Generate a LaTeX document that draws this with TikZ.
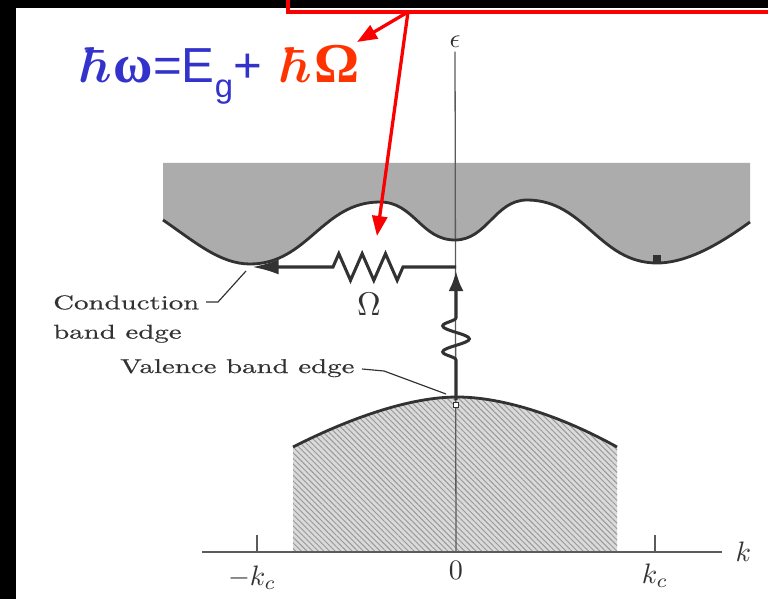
\documentclass[tikz,border=0pt]{standalone}
\usepackage{bm}
\usepackage{fontspec}
\newfontfamily\scanfont{lmroman10-regular.otf}[FakeStretch=1.45,FakeBold=0.5]
\newfontfamily\eqsans{Liberation Sans}
\newfontfamily\eqserif{Liberation Serif}
\usetikzlibrary{arrows.meta,positioning,decorations.pathmorphing,patterns.meta}
\definecolor{eqblue}{RGB}{51,51,204}
\definecolor{eqred}{RGB}{255,51,0}
\definecolor{boxred}{RGB}{250,0,0}
\definecolor{scanink}{RGB}{50,50,50}
\definecolor{bandgray}{RGB}{172,172,172}
\definecolor{hatchgray}{RGB}{218,218,218}
\newcommand\condedge{(163,220) .. controls (195,242) and (220,264) .. (250,264)
  .. controls (308,264) and (322,202) .. (380,202)
  .. controls (414,202) and (421,240) .. (455,240)
  .. controls (487,240) and (495,200) .. (527,200)
  .. controls (585,200) and (599,263) .. (657,263)
  .. controls (690,263) and (725,240) .. (750,222)}
\newcommand\valedge{(293,447) .. controls (350,418) and (410,397) .. (457,397)
  .. controls (505,397) and (565,418) .. (617,447)}
\newcommand\bigmath[2]{\scalebox{#1}{\normalsize$#2$}}

\begin{document}
\begin{tikzpicture}[
    x=0.03cm,y=-0.03cm,
    edge/.style={line width=2.4pt,draw=scanink},
    leader/.style={line width=1pt,draw=scanink},
    axis/.style={line width=1.1pt,draw=scanink!80},
    hint/.style={-{Triangle[length=0.6cm,width=0.45cm]},line width=2.8pt,draw=boxred},
    lbl/.style={font=\scanfont\fontsize{17}{25}\selectfont,text=scanink,inner sep=0pt},
    mlbl/.style={text=scanink,inner sep=0pt}
  ]
  \useasboundingbox (0,0) rectangle (768,599);
  \fill[black] (0,0) rectangle (768,599);
  \fill[white] (16,8) rectangle (768,599);

  % bands
  \fill[bandgray] \condedge -- (750,163) -- (163,163) -- cycle;
  \path[preaction={fill=hatchgray},pattern={Lines[angle=-45,distance=3.4pt,line width=0.8pt]},pattern color=scanink!50]
    \valedge -- (617,552) -- (293,552) -- cycle;

  % axes
  \coordinate (origin) at (456,552);
  \coordinate (kleft) at (202,552);
  \coordinate (kright) at (722,552);
  \node[mlbl,inner sep=3pt] (epslbl) at (455,42) {\bigmath{2.3}{\epsilon}};
  \node[mlbl,right=0.4cm of kright] (klbl) {\bigmath{2.4}{k}};
  \draw[axis] (origin) -- (epslbl);
  \draw[axis] (kleft) -- (kright);
  \foreach \x in {257,655} \draw[axis] (\x,535) -- (\x,552);
  \node[mlbl] (kcneg) at (252,578) {\bigmath{2.4}{-k_c}};
  \node[mlbl] (kzero) at (456,570) {\bigmath{2.4}{0}};
  \node[mlbl] (kcpos) at (655,576) {\bigmath{2.4}{k_c}};

  % band edges
  \draw[edge] \condedge;
  \draw[edge] \valedge;

  % transitions
  \coordinate (vbmax) at (456,400);
  \coordinate (corner) at (456,267);
  \coordinate (cbmin) at (252,267);
  \draw[edge,line width=2.6pt,-{Latex[length=0.6cm,width=0.45cm]},shorten >=3.5pt,decorate,
    decoration={snake,segment length=0.78cm,amplitude=0.4cm,pre length=1.2cm,post length=1.2cm}]
    (vbmax) -- (corner);
  \draw[edge,line width=2.6pt,-{Latex[length=0.8cm,width=0.45cm]},decorate,
    decoration={zigzag,segment length=0.7cm,amplitude=0.4cm,pre length=1.59cm,post length=2.4cm}]
    (corner) -- (cbmin);
  \node[mlbl] (omlbl) at (369,304) {\bigmath{2.8}{\Omega}};
  \node[fill=scanink,inner sep=0pt,minimum size=0.22cm] (cbmark) at (657,259) {};
  \node[draw=scanink,fill=white,line width=0.6pt,inner sep=0pt,minimum size=0.15cm] (vbmark) at (456,405) {};

  % labels
  \node[lbl,align=left,anchor=north west] (condlbl) at (53,295) {Conduction\\band edge};
  \node[lbl,anchor=base west] (vallbl) at (120,373) {Valence band edge};
  \coordinate (condfoot) at (206,302);
  \coordinate (condtip) at (246,271);
  \coordinate (valfoot) at (362,369);
  \coordinate (valtip) at (446,394);
  \draw[leader] (condfoot) -- ++(12,0) -- (condtip);
  \draw[leader] (valfoot) -- ++(22,2) -- (valtip);

  % equation and pointers
  \node[anchor=base west,inner sep=0pt,text=eqblue] (eq) at (82,83)
    {\scalebox{4.3}{$\bm{\hbar}$}\kern1.5pt{\eqserif\bfseries\fontsize{46}{50}\selectfont ω}{\eqsans\fontsize{42}{48}\selectfont =E\raisebox{-12pt}{\fontsize{28}{32}\selectfont g}+ }\hspace{6pt}\textcolor{eqred}{\scalebox{4.3}{$\bm{\hbar}$}\kern1.5pt{\eqserif\bfseries\fontsize{48}{52}\selectfont Ω}}};
  \draw[boxred,line width=3.5pt] (288,-5) |- (775,12);
  \coordinate (src) at (408,12);
  \coordinate (omtip) at (357,42);
  \coordinate (zztip) at (377,236);
  \draw[hint] (src) -- (omtip);
  \draw[hint] (src) -- (zztip);
\end{tikzpicture}
\end{document}
